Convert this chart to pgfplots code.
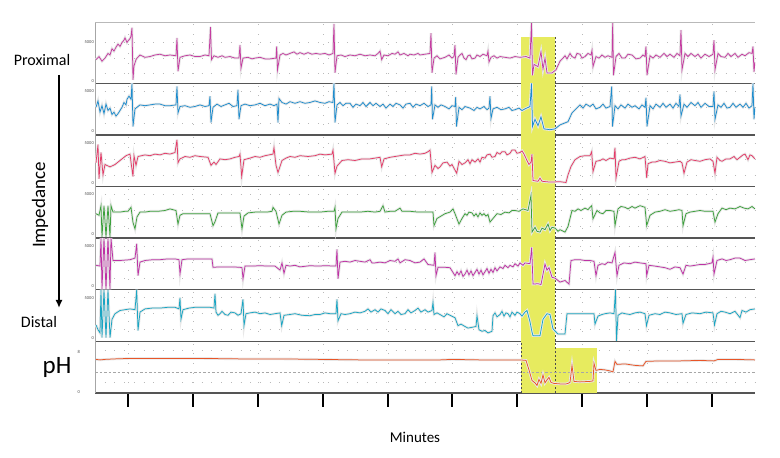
\documentclass[border=0pt]{standalone}
\usepackage{pgfplots}
\pgfplotsset{compat=1.18}
\usepackage{pgfplotstable}
\usepackage{fontspec}
\setmainfont{Carlito}
\usetikzlibrary{arrows.meta}

\definecolor{cA}{RGB}{196,60,160}
\definecolor{cB}{RGB}{30,140,205}
\definecolor{cC}{RGB}{228,60,105}
\definecolor{cD}{RGB}{60,160,60}
\definecolor{cE}{RGB}{190,50,165}
\definecolor{cF}{RGB}{25,165,195}
\definecolor{cPH}{RGB}{232,85,40}
\definecolor{hl}{RGB}{231,235,95}
\definecolor{sep}{RGB}{85,85,85}

\pgfplotstableread[row sep=\\]{x y\\
96 2.8\\ 99 3.2\\ 102 2.6\\ 105 3.0\\ 108 3.6\\ 110 3.4\\ 112 4.2\\ 114 3.9\\ 116 4.4\\ 118 4.8\\ 120 4.5\\ 122 5.0\\ 124 5.3\\ 125 5.6\\ 127 5.0\\ 128 5.2\\ 130 5.5\\ 131 5.8\\ 132 6.9\\ 133 0.2\\ 134 2.0\\ 136 2.8\\ 137 3.0\\ 140 3.4\\ 145 3.1\\ 150 3.2\\ 155 3.4\\ 160 3.5\\ 165 3.3\\ 170 3.4\\ 176 3.3\\ 177 5.6\\ 178 1.3\\ 180 3.1\\ 185 3.3\\ 190 3.4\\ 195 3.2\\ 200 3.2\\ 205 3.4\\ 209 3.3\\ 210.5 7.0\\ 211.5 2.8\\ 214 3.3\\ 218 3.1\\ 222 3.3\\ 225 3.1\\ 230 3.2\\ 235 3.0\\ 239 3.0\\ 240 4.7\\ 241 1.7\\ 243 3.0\\ 248 3.1\\ 252 2.9\\ 255 3.0\\ 260 3.1\\ 265 2.9\\ 270 2.9\\ 276 3.0\\ 276.7 4.5\\ 277.5 1.5\\ 280 3.4\\ 283 3.6\\ 286 3.4\\ 290 3.6\\ 294 3.8\\ 297 3.5\\ 300 3.7\\ 304 3.5\\ 308 3.7\\ 312 3.5\\ 316 3.6\\ 320 3.5\\ 325 3.6\\ 329 3.4\\ 333 3.6\\ 334 7.4\\ 335 1.1\\ 337 3.3\\ 341 3.4\\ 345 3.2\\ 350 3.4\\ 355 3.3\\ 360 3.5\\ 365 3.3\\ 370 3.4\\ 375 3.3\\ 378 3.6\\ 380 3.9\\ 381.7 2.8\\ 384 3.4\\ 388 3.3\\ 392 3.6\\ 395 3.5\\ 398 3.8\\ 400 3.4\\ 404 3.6\\ 408 3.3\\ 410 3.5\\ 414 3.4\\ 418 3.6\\ 420 3.4\\ 425 3.5\\ 430 3.6\\ 431 6.2\\ 432 1.1\\ 434 3.0\\ 437 3.3\\ 440 2.9\\ 445 3.1\\ 449 3.4\\ 452 3.0\\ 454 3.2\\ 455 4.7\\ 456 0.9\\ 458 3.1\\ 460 3.4\\ 462 3.6\\ 464 3.0\\ 466 2.8\\ 468 3.3\\ 470 3.4\\ 472 2.9\\ 475 3.0\\ 477 3.4\\ 480 3.2\\ 483 3.5\\ 487 3.3\\ 488 3.9\\ 489 2.5\\ 491 3.1\\ 494 3.3\\ 497 3.0\\ 500 3.2\\ 505 3.1\\ 510 3.0\\ 515 3.2\\ 520 3.1\\ 526 3.2\\ 530 3.0\\ 531.5 7.6\\ 532.5 0.8\\ 534 2.2\\ 538 1.9\\ 541 3.8\\ 543 1.6\\ 545 3.0\\ 547 1.1\\ 552 1.1\\ 556 1.5\\ 560 2.6\\ 563 3.0\\ 565 3.3\\ 567 2.9\\ 570 3.6\\ 572 3.2\\ 575 3.0\\ 577 3.6\\ 580 3.5\\ 582 3.0\\ 585 3.2\\ 588 3.6\\ 591 3.4\\ 592 4.0\\ 593 1.9\\ 596 3.2\\ 599 3.0\\ 602 3.4\\ 605 3.1\\ 608 3.3\\ 612 3.1\\ 612.7 7.5\\ 613.5 0.8\\ 616 3.2\\ 619 3.6\\ 622 3.0\\ 625 3.0\\ 628 3.5\\ 632 3.4\\ 636 2.9\\ 640 3.0\\ 643 3.4\\ 645 3.2\\ 646 4.5\\ 647 0.8\\ 650 3.3\\ 653 3.0\\ 656 3.4\\ 660 3.1\\ 664 3.6\\ 667 3.2\\ 670 3.5\\ 674 3.1\\ 677 3.6\\ 680 3.3\\ 681 6.6\\ 682 1.5\\ 685 3.6\\ 688 3.2\\ 691 3.6\\ 695 3.2\\ 698 3.5\\ 701 3.0\\ 705 3.5\\ 709 3.2\\ 713 3.5\\ 714 5.3\\ 715 1.5\\ 718 3.6\\ 721 3.2\\ 725 3.1\\ 728 3.6\\ 731 3.2\\ 735 3.6\\ 738 3.1\\ 742 3.5\\ 745 3.3\\ 749 3.7\\ 752 3.6\\ 753 4.5\\ 754 1.2\\ 755 2.5\\
}\tA

\pgfplotstableread[row sep=\\]{x y\\
96 3.0\\ 98 3.8\\ 100 2.4\\ 102 3.2\\ 104 2.2\\ 106 3.4\\ 108 2.6\\ 110 2.9\\ 112 2.1\\ 114 2.4\\ 116 1.9\\ 118 2.2\\ 120 2.6\\ 122 3.0\\ 124 3.6\\ 126 3.3\\ 127 4.0\\ 129 4.4\\ 131 4.0\\ 132 6.0\\ 133 0.6\\ 135 2.8\\ 140 3.3\\ 145 3.2\\ 150 3.3\\ 155 3.4\\ 160 3.4\\ 165 3.2\\ 170 3.2\\ 176 3.3\\ 177 5.6\\ 178 2.3\\ 180 3.1\\ 185 3.2\\ 190 3.0\\ 195 3.1\\ 200 3.3\\ 205 3.1\\ 209 3.2\\ 210 4.4\\ 211 1.1\\ 213 3.0\\ 217 3.4\\ 221 3.1\\ 225 3.3\\ 229 3.5\\ 233 3.1\\ 237 3.2\\ 238 5.2\\ 239 1.5\\ 241 3.2\\ 245 3.4\\ 250 3.2\\ 255 3.3\\ 260 3.5\\ 265 3.2\\ 270 3.4\\ 274 3.2\\ 277 3.4\\ 278 1.1\\ 279 4.1\\ 282 3.6\\ 286 3.4\\ 290 3.7\\ 295 3.5\\ 300 3.7\\ 305 3.5\\ 310 3.6\\ 315 3.8\\ 320 3.6\\ 325 3.5\\ 329 3.7\\ 333 3.6\\ 334 6.0\\ 335 1.1\\ 337 3.3\\ 340 3.6\\ 343 3.2\\ 346 3.5\\ 350 3.5\\ 353 3.0\\ 356 3.4\\ 360 3.2\\ 363 3.6\\ 366 3.1\\ 370 3.6\\ 373 3.2\\ 376 3.5\\ 380 3.1\\ 383 3.4\\ 386 2.9\\ 390 3.4\\ 393 3.1\\ 396 3.5\\ 400 3.3\\ 403 2.9\\ 406 3.4\\ 410 3.5\\ 413 3.0\\ 416 3.4\\ 420 3.2\\ 424 3.5\\ 428 3.1\\ 431 3.3\\ 431.7 5.6\\ 432.5 1.5\\ 435 3.3\\ 438 3.0\\ 441 3.3\\ 445 3.1\\ 449 2.8\\ 452 3.2\\ 455 3.1\\ 455.7 4.3\\ 456.5 0.6\\ 459 3.0\\ 462 2.7\\ 465 3.1\\ 470 2.9\\ 474 2.6\\ 477 3.0\\ 480 2.8\\ 484 3.1\\ 487 2.7\\ 489 2.9\\ 490 4.4\\ 491 1.6\\ 493 2.8\\ 497 3.0\\ 501 2.7\\ 505 2.8\\ 509 3.0\\ 512 2.6\\ 515 2.7\\ 519 2.9\\ 522 2.6\\ 525 2.8\\ 530 3.1\\ 531.5 6.0\\ 532.5 0.6\\ 535 1.5\\ 538 0.7\\ 541 1.8\\ 544 0.3\\ 550 0.2\\ 555 0.3\\ 560 0.8\\ 564 1.0\\ 568 1.2\\ 572 2.3\\ 576 2.8\\ 580 3.3\\ 583 2.9\\ 586 3.4\\ 590 3.1\\ 593 3.4\\ 596 2.8\\ 600 3.0\\ 603 3.4\\ 606 2.9\\ 610 3.1\\ 611.7 5.6\\ 612.5 0.6\\ 615 3.2\\ 618 2.8\\ 621 3.3\\ 625 2.9\\ 628 3.4\\ 632 3.0\\ 635 3.2\\ 639 2.8\\ 642 3.3\\ 645 3.0\\ 646 4.2\\ 647 0.6\\ 650 3.2\\ 653 2.8\\ 656 3.4\\ 660 3.0\\ 663 3.5\\ 666 3.0\\ 670 3.4\\ 673 2.9\\ 676 3.5\\ 679 3.1\\ 680 4.6\\ 681 1.9\\ 684 3.4\\ 687 3.0\\ 691 3.6\\ 695 3.2\\ 698 3.6\\ 701 3.0\\ 705 3.5\\ 709 3.1\\ 713 3.1\\ 714 5.0\\ 715 1.5\\ 718 3.3\\ 721 3.0\\ 724 3.5\\ 727 2.9\\ 730 3.0\\ 733 3.5\\ 736 3.0\\ 740 3.4\\ 743 3.0\\ 746 3.5\\ 749 2.9\\ 752 3.2\\ 753 6.0\\ 754 1.5\\ 755 3.0\\
}\tB

\pgfplotstableread[row sep=\\]{x y\\
96 2.5\\ 98 4.8\\ 99 0.5\\ 101 3.8\\ 103 1.0\\ 105 2.3\\ 110 2.0\\ 115 2.3\\ 120 2.8\\ 126 3.4\\ 130 3.6\\ 131 2.6\\ 133 0.8\\ 134 3.4\\ 136 2.2\\ 138 3.3\\ 145 3.5\\ 150 3.4\\ 155 3.6\\ 160 3.5\\ 165 3.7\\ 170 3.6\\ 175 3.8\\ 177 5.4\\ 178 2.5\\ 180 3.0\\ 185 3.3\\ 190 3.2\\ 195 3.4\\ 200 3.3\\ 208 3.2\\ 211 2.2\\ 214 2.6\\ 216 2.3\\ 220 3.0\\ 225 2.9\\ 230 3.0\\ 235 3.2\\ 239 3.3\\ 240 3.6\\ 241.7 0.8\\ 244 2.9\\ 250 3.1\\ 255 3.3\\ 260 3.2\\ 265 3.4\\ 273 3.6\\ 274 4.4\\ 276 2.2\\ 278 1.3\\ 282 2.8\\ 286 3.1\\ 290 3.3\\ 295 3.2\\ 300 3.4\\ 308 3.3\\ 315 3.4\\ 320 3.6\\ 325 3.5\\ 332 3.6\\ 333 4.1\\ 335 1.2\\ 337 2.1\\ 342 2.8\\ 348 2.9\\ 355 2.8\\ 362 3.0\\ 370 3.0\\ 375 3.1\\ 380 3.2\\ 381.7 2.0\\ 384 3.0\\ 390 3.2\\ 395 3.3\\ 400 3.4\\ 405 3.5\\ 410 3.5\\ 415 3.7\\ 420 3.6\\ 425 3.7\\ 428 3.9\\ 430 4.1\\ 432 1.3\\ 435 2.2\\ 438 1.8\\ 440 2.0\\ 443 2.5\\ 447 2.6\\ 450 2.1\\ 452 2.3\\ 456.7 1.2\\ 459 2.7\\ 462 2.3\\ 465 2.5\\ 468 2.9\\ 470 2.4\\ 472 2.9\\ 475 2.6\\ 478 3.0\\ 480 2.6\\ 482 3.2\\ 485 3.1\\ 487 3.5\\ 490 3.6\\ 492 3.2\\ 495 3.3\\ 497 3.8\\ 500 3.6\\ 502 3.9\\ 505 3.9\\ 507 3.5\\ 510 3.7\\ 512 4.1\\ 515 4.1\\ 517 3.7\\ 520 3.8\\ 522 4.0\\ 524 3.6\\ 527 2.8\\ 529 2.3\\ 531 2.6\\ 532 3.6\\ 533 0.3\\ 538 0.2\\ 540 0.6\\ 542 0.2\\ 550 0.1\\ 560 0.15\\ 566 0.05\\ 568 1.0\\ 571 2.05\\ 575 2.9\\ 580 3.3\\ 585 3.4\\ 590 3.4\\ 591.7 3.9\\ 593 1.4\\ 596 2.7\\ 600 2.8\\ 603 3.0\\ 606 2.8\\ 610 3.1\\ 614 3.0\\ 615 4.4\\ 616 0.6\\ 619 2.7\\ 622 2.9\\ 625 2.9\\ 630 3.1\\ 635 3.2\\ 640 3.0\\ 645 3.3\\ 646.7 0.6\\ 648 2.4\\ 652 2.6\\ 655 2.6\\ 660 2.8\\ 665 2.7\\ 670 2.5\\ 675 2.6\\ 680 2.7\\ 682 2.5\\ 684 1.2\\ 687 2.6\\ 691 2.9\\ 695 2.8\\ 700 2.7\\ 705 2.9\\ 710 3.0\\ 713 2.7\\ 715 1.2\\ 717 3.2\\ 720 2.8\\ 722 2.7\\ 726 3.0\\ 730 3.0\\ 734 3.3\\ 737 2.9\\ 740 3.2\\ 743 3.5\\ 745 3.6\\ 748 2.9\\ 750 3.5\\ 752 3.4\\ 755 3.0\\
}\tC

\pgfplotstableread[row sep=\\]{x y\\
96 2.6\\ 99 2.4\\ 101 3.6\\ 102 -0.3\\ 104 3.6\\ 106 -0.3\\ 108 3.6\\ 110 -0.3\\ 111 3.6\\ 113 2.8\\ 120 2.8\\ 125 2.9\\ 128 2.9\\ 131 3.4\\ 133 1.5\\ 135 0.7\\ 137 2.2\\ 140 2.8\\ 145 2.8\\ 150 2.9\\ 158 2.9\\ 165 3.0\\ 170 3.2\\ 176 3.0\\ 178 1.3\\ 180 2.4\\ 183 2.6\\ 190 2.6\\ 200 2.6\\ 210 2.6\\ 213 1.1\\ 215 1.6\\ 218 2.7\\ 224 2.7\\ 230 2.7\\ 240 2.7\\ 242 0.7\\ 244 2.3\\ 248 2.7\\ 255 2.8\\ 260 2.8\\ 267 2.8\\ 272 2.9\\ 273 3.4\\ 276 2.9\\ 279 1.3\\ 282 2.4\\ 286 2.8\\ 293 2.9\\ 300 2.9\\ 310 2.8\\ 320 2.8\\ 328 2.9\\ 334 2.9\\ 335 3.4\\ 336 0.7\\ 338 2.0\\ 342 2.8\\ 350 2.8\\ 360 2.8\\ 368 2.9\\ 375 2.8\\ 380 2.9\\ 383 3.6\\ 385 2.8\\ 390 2.9\\ 395 2.9\\ 400 3.3\\ 402 2.9\\ 410 2.9\\ 418 2.8\\ 425 2.8\\ 433 2.8\\ 434 1.1\\ 437 2.0\\ 441 2.3\\ 445 2.6\\ 450 2.8\\ 453 3.2\\ 455 2.6\\ 459 1.3\\ 462 2.0\\ 465 2.6\\ 467 2.4\\ 469 2.8\\ 472 2.7\\ 474 2.3\\ 476 2.6\\ 478 2.2\\ 480 2.7\\ 482 2.4\\ 484 2.6\\ 486 2.3\\ 488 2.5\\ 490 1.55\\ 493 2.0\\ 497 2.6\\ 501 2.5\\ 505 2.8\\ 509 2.7\\ 512 3.0\\ 515 3.0\\ 519 2.9\\ 523 3.2\\ 528 3.0\\ 531 4.9\\ 532 0.3\\ 535 0.9\\ 537 0.4\\ 540 0.3\\ 542 0.8\\ 545 0.6\\ 548 1.3\\ 550 0.5\\ 552 0.9\\ 555 0.8\\ 558 0.4\\ 560 0.6\\ 565 0.3\\ 568 1.0\\ 572 3.0\\ 575 2.9\\ 578 3.2\\ 581 3.0\\ 585 3.3\\ 588 3.1\\ 590 3.4\\ 591.7 3.6\\ 593 1.96\\ 597 3.0\\ 600 2.7\\ 603 2.6\\ 606 3.0\\ 610 3.0\\ 614 2.9\\ 615 1.1\\ 618 3.2\\ 621 3.5\\ 625 3.4\\ 628 3.2\\ 632 3.5\\ 635 3.3\\ 640 3.6\\ 645 3.4\\ 646.7 1.1\\ 650 2.4\\ 655 2.8\\ 660 2.9\\ 665 3.1\\ 670 2.9\\ 675 3.0\\ 679 3.1\\ 682 3.0\\ 683 1.1\\ 686 2.6\\ 690 2.8\\ 695 2.9\\ 700 3.0\\ 705 2.9\\ 713 2.9\\ 715 1.55\\ 718 2.6\\ 722 3.3\\ 726 3.1\\ 730 3.3\\ 735 3.2\\ 740 3.5\\ 744 3.3\\ 748 3.2\\ 752 3.5\\ 755 3.2\\
}\tD

\pgfplotstableread[row sep=\\]{x y\\
96 2.6\\ 100 2.5\\ 101 6.0\\ 102 -0.4\\ 104 6.0\\ 106 -0.4\\ 108 6.0\\ 110 -0.4\\ 111 6.0\\ 113 3.2\\ 120 3.2\\ 130 3.3\\ 135 3.5\\ 136.7 5.3\\ 138 1.3\\ 140 3.0\\ 145 3.2\\ 153 3.3\\ 160 3.3\\ 168 3.4\\ 175 3.4\\ 179 3.3\\ 180 1.5\\ 182 3.3\\ 188 3.4\\ 195 3.4\\ 203 3.4\\ 210 3.4\\ 212 3.4\\ 213 2.35\\ 220 2.4\\ 225 2.4\\ 232 2.4\\ 240 2.35\\ 242 2.3\\ 243 0.9\\ 245 2.5\\ 252 2.5\\ 260 2.55\\ 268 2.5\\ 275 2.5\\ 280 2.0\\ 282 2.9\\ 284 1.6\\ 286 2.6\\ 290 2.5\\ 295 2.6\\ 300 2.4\\ 310 2.55\\ 318 2.5\\ 325 2.55\\ 336 2.5\\ 337 4.6\\ 338 0.9\\ 340 3.0\\ 345 3.1\\ 350 3.0\\ 355 3.2\\ 360 3.1\\ 365 3.0\\ 370 3.3\\ 372 2.9\\ 375 2.9\\ 380 3.0\\ 385 2.9\\ 390 3.2\\ 395 3.1\\ 398 3.4\\ 400 2.9\\ 405 3.3\\ 410 3.2\\ 415 2.9\\ 420 3.0\\ 424 3.4\\ 428 2.7\\ 434 2.6\\ 435 4.2\\ 436 1.3\\ 438 2.35\\ 445 2.35\\ 450 2.3\\ 455 1.3\\ 457 1.8\\ 459 1.4\\ 461 1.9\\ 463 1.2\\ 465 1.5\\ 467 2.0\\ 469 1.4\\ 471 1.9\\ 473 1.3\\ 475 1.7\\ 477 2.1\\ 479 1.5\\ 481 2.0\\ 483 1.4\\ 485 1.8\\ 487 2.2\\ 489 1.6\\ 491 2.1\\ 493 1.7\\ 495 2.3\\ 497 1.9\\ 500 2.4\\ 503 2.2\\ 505 2.6\\ 508 2.3\\ 510 2.6\\ 513 2.4\\ 515 2.8\\ 518 2.5\\ 520 2.9\\ 523 2.6\\ 525 2.9\\ 530 2.8\\ 531.7 4.85\\ 533 0.25\\ 538 0.3\\ 541 0.2\\ 545 2.75\\ 547 2.0\\ 549 2.3\\ 552 1.1\\ 555 1.0\\ 560 0.5\\ 565 0.7\\ 569 0.25\\ 571 3.2\\ 575 3.3\\ 580 3.3\\ 585 3.2\\ 590 3.2\\ 594 3.1\\ 596 1.3\\ 598 2.6\\ 602 2.8\\ 605 2.7\\ 608 3.0\\ 612 2.9\\ 615 4.2\\ 617 1.3\\ 619 2.6\\ 624 2.9\\ 630 2.8\\ 635 3.0\\ 640 2.9\\ 646 2.8\\ 646.7 1.3\\ 649 2.6\\ 655 2.5\\ 660 2.4\\ 665 2.3\\ 670 2.1\\ 675 2.4\\ 680 2.3\\ 683 1.5\\ 686 2.6\\ 690 2.5\\ 695 2.6\\ 700 2.7\\ 705 2.7\\ 712 2.9\\ 713 3.6\\ 714 1.5\\ 717 3.2\\ 722 3.4\\ 726 3.2\\ 730 3.3\\ 735 3.5\\ 740 3.5\\ 745 3.2\\ 750 3.3\\ 755 3.4\\
}\tE

\pgfplotstableread[row sep=\\]{x y\\
96 1.6\\ 98 1.0\\ 100 0.6\\ 101 6.0\\ 102 0.0\\ 104 6.0\\ 106 0.0\\ 108 6.0\\ 110 0.0\\ 112 2.3\\ 115 3.0\\ 120 3.4\\ 125 3.5\\ 130 3.6\\ 135 3.5\\ 136.7 6.0\\ 138 0.9\\ 140 3.2\\ 145 3.6\\ 152 3.7\\ 160 3.7\\ 168 3.8\\ 175 3.8\\ 179 3.6\\ 180 5.0\\ 181 2.3\\ 183 3.5\\ 189 3.7\\ 195 3.8\\ 203 3.8\\ 210 3.8\\ 214 3.7\\ 215 5.5\\ 216 3.2\\ 218 2.8\\ 220 3.0\\ 222 3.3\\ 225 2.9\\ 228 2.8\\ 231 3.2\\ 235 3.1\\ 238 2.8\\ 241 3.0\\ 243 4.8\\ 244 1.5\\ 246 3.0\\ 250 3.1\\ 255 3.2\\ 260 3.0\\ 265 3.1\\ 270 2.9\\ 275 3.0\\ 280 3.1\\ 281.7 1.5\\ 284 2.8\\ 290 2.9\\ 295 3.0\\ 302 2.8\\ 310 2.75\\ 315 2.9\\ 320 2.9\\ 325 3.1\\ 330 3.0\\ 336 3.0\\ 337 4.8\\ 338 2.1\\ 341 3.0\\ 345 2.9\\ 350 3.0\\ 355 3.2\\ 360 3.1\\ 365 3.3\\ 368 3.6\\ 371 3.2\\ 375 3.5\\ 378 3.2\\ 381 3.6\\ 385 3.4\\ 388 3.0\\ 391 3.5\\ 395 3.0\\ 398 3.3\\ 401 2.9\\ 405 3.0\\ 408 3.5\\ 411 3.1\\ 415 3.4\\ 418 3.7\\ 421 3.2\\ 425 3.5\\ 428 3.2\\ 432 3.4\\ 433 4.4\\ 434 2.9\\ 437 3.1\\ 440 2.9\\ 444 2.6\\ 447 3.0\\ 450 2.8\\ 455 2.5\\ 458 1.5\\ 461 1.7\\ 465 1.4\\ 468 1.2\\ 472 1.3\\ 476 1.4\\ 477 2.75\\ 479 1.0\\ 482 0.8\\ 485 0.9\\ 488 0.6\\ 490 0.7\\ 492 0.8\\ 493 2.75\\ 495 3.1\\ 497 2.6\\ 500 2.9\\ 502 3.3\\ 504 2.7\\ 506 3.1\\ 508 3.0\\ 510 2.6\\ 512 3.2\\ 515 2.8\\ 517 3.2\\ 520 3.0\\ 522 2.7\\ 525 3.2\\ 527 3.4\\ 530 2.0\\ 532 0.7\\ 533 0.25\\ 540 0.25\\ 543 2.3\\ 547 3.0\\ 550 2.9\\ 553 1.1\\ 558 0.45\\ 565 0.45\\ 567 3.0\\ 572 3.0\\ 580 3.0\\ 585 3.0\\ 590 3.0\\ 594 3.0\\ 595 1.7\\ 598 2.7\\ 602 2.9\\ 605 3.0\\ 610 3.1\\ 614 3.0\\ 615.5 6.0\\ 616.5 -0.4\\ 618 2.8\\ 622 3.1\\ 625 3.0\\ 630 2.9\\ 635 3.1\\ 640 3.2\\ 645 3.0\\ 646.5 1.5\\ 649 2.8\\ 655 3.0\\ 660 2.9\\ 665 3.2\\ 670 3.1\\ 676 2.9\\ 682 3.0\\ 683 1.8\\ 686 2.9\\ 692 3.1\\ 700 3.0\\ 706 3.2\\ 713 3.1\\ 714.5 1.6\\ 717 3.0\\ 721 3.3\\ 725 3.2\\ 730 3.0\\ 735 3.3\\ 740 2.5\\ 742 3.4\\ 746 3.2\\ 750 3.5\\ 755 3.6\\
}\tF

\pgfplotstableread[row sep=\\]{x y\\
96 6.6\\ 100 6.5\\ 105 6.6\\ 115 6.7\\ 130 6.8\\ 160 6.8\\ 200 6.8\\ 240 6.7\\ 280 6.7\\ 320 6.6\\ 360 6.5\\ 400 6.5\\ 440 6.5\\ 452 6.6\\ 480 6.5\\ 520 6.5\\ 526 6.4\\ 529 4.5\\ 532 2.4\\ 535 1.9\\ 537 1.4\\ 539 2.6\\ 541 1.8\\ 543 3.5\\ 545 1.9\\ 547 2.5\\ 549 3.0\\ 551 2.0\\ 554 1.8\\ 560 1.7\\ 566 1.7\\ 568 1.8\\ 570 2.0\\ 572 5.4\\ 574 2.2\\ 580 2.1\\ 590 2.2\\ 593 2.3\\ 594 5.8\\ 596 4.4\\ 600 4.6\\ 605 4.5\\ 610 4.3\\ 613 4.1\\ 615 6.2\\ 617 5.6\\ 625 5.7\\ 635 5.4\\ 643 5.3\\ 646 6.2\\ 660 6.3\\ 680 6.3\\ 700 6.4\\ 714 6.3\\ 718 6.6\\ 735 6.6\\ 755 6.5\\
}\tPH

\pgfplotsset{
  base/.style={scale only axis, width=660pt, xmin=95, xmax=755,
    axis lines*=left, clip=true,
    xtick={128,193,258,323,388,452,517,582,647,712}, xticklabels={},
    minor x tick num=1, xmajorgrids, xminorgrids,
    ymajorgrids=false, yminorgrids,
    grid style={gray!55, line width=0.7pt, dash pattern=on 0.7pt off 9pt},
    minor grid style={gray!55, line width=0.7pt, dash pattern=on 0.7pt off 9pt},
    tick style={draw=none}, minor tick length=0pt,
    x axis line style={sep, line width=1.4pt},
    y axis line style={gray!70, line width=0.5pt},
    yticklabel style={font=\fontsize{4.5}{5}\selectfont, text=black!70, inner sep=1pt},
  },
  imp/.style={base, height=51.6pt, ymin=-0.45, ymax=6.0,
    ytick={0,5}, yticklabels={0,5000}, minor ytick={1,3,5}},
  halo/.style={line width=2.6pt, black!9},
  trace/.style={line width=0.75pt},
}

\begin{document}
\begin{tikzpicture}[x=1pt,y=1pt]
\path (0,0) rectangle (780,458);

% panel 1
\begin{axis}[base, at={(95pt,374.7pt)}, anchor=south west, height=60.6pt,
  ymin=-0.23, ymax=7.54, ytick={0,5}, yticklabels={0,5000}, minor ytick={1,3,5}]
  \fill[hl] (axis cs:521,-0.23) rectangle (axis cs:555,5.7);
  \draw[gray!60!black, dash pattern=on 2pt off 2pt, line width=0.6pt] (axis cs:555,-0.23) -- (axis cs:555,5.7);
  \addplot[halo] table {\tA};
  \addplot[trace, cA] table {\tA};
\end{axis}
\draw[gray!55, line width=1.4pt] (95,435.3) -- (755,435.3);

% panel 2
\begin{axis}[imp, at={(95pt,323.1pt)}, anchor=south west]
  \fill[hl] (axis cs:521,-0.45) rectangle (axis cs:555,6.0);
  \draw[gray!60!black, dash pattern=on 2pt off 2pt, line width=0.6pt] (axis cs:555,-0.45) -- (axis cs:555,6.0);
  \addplot[halo] table {\tB};
  \addplot[trace, cB] table {\tB};
\end{axis}

% panel 3
\begin{axis}[imp, at={(95pt,271.5pt)}, anchor=south west]
  \fill[hl] (axis cs:521,-0.45) rectangle (axis cs:555,6.0);
  \draw[gray!60!black, dash pattern=on 2pt off 2pt, line width=0.6pt] (axis cs:555,-0.45) -- (axis cs:555,6.0);
  \addplot[halo] table {\tC};
  \addplot[trace, cC] table {\tC};
\end{axis}

% panel 4
\begin{axis}[imp, at={(95pt,219.9pt)}, anchor=south west]
  \fill[hl] (axis cs:521,-0.45) rectangle (axis cs:555,6.0);
  \draw[gray!60!black, dash pattern=on 2pt off 2pt, line width=0.6pt] (axis cs:555,-0.45) -- (axis cs:555,6.0);
  \addplot[halo] table {\tD};
  \addplot[trace, cD] table {\tD};
\end{axis}

% panel 5
\begin{axis}[imp, at={(95pt,168.3pt)}, anchor=south west]
  \fill[hl] (axis cs:521,-0.45) rectangle (axis cs:555,6.0);
  \draw[gray!60!black, dash pattern=on 2pt off 2pt, line width=0.6pt] (axis cs:555,-0.45) -- (axis cs:555,6.0);
  \addplot[halo] table {\tE};
  \addplot[trace, cE] table {\tE};
\end{axis}

% panel 6
\begin{axis}[imp, at={(95pt,116.7pt)}, anchor=south west]
  \fill[hl] (axis cs:521,-0.45) rectangle (axis cs:555,6.0);
  \draw[gray!60!black, dash pattern=on 2pt off 2pt, line width=0.6pt] (axis cs:555,-0.45) -- (axis cs:555,6.0);
  \addplot[halo] table {\tF};
  \addplot[trace, cF] table {\tF};
\end{axis}

% pH panel
\begin{axis}[base, at={(95pt,65.1pt)}, anchor=south west, height=51.6pt,
  ymin=-0.1, ymax=10.22, ytick={0,8}, yticklabels={0,8}, minor ytick={2,8.5},
  xtick style={draw=black, line width=1.6pt}, major tick length=14pt, tick align=outside]
  \fill[hl] (axis cs:521,-0.1) rectangle (axis cs:555,10.22);
  \fill[hl] (axis cs:555,-0.1) rectangle (axis cs:597,8.9);
  \draw[gray!60!black, dash pattern=on 2pt off 2pt, line width=0.6pt] (axis cs:555,-0.1) -- (axis cs:555,10.22);
  \draw[gray!60!black, dash pattern=on 2pt off 2pt, line width=0.6pt] (axis cs:521,-0.1) -- (axis cs:521,10.22);
  \draw[gray!70, dash pattern=on 2.5pt off 2pt, line width=0.6pt] (axis cs:95,4) -- (axis cs:755,4);
  \addplot[halo] table {\tPH};
  \addplot[trace, cPH] table {\tPH};
\end{axis}

% labels
\node[font=\fontsize{16}{18}\selectfont] at (42,398) {Proximal};
\node[font=\fontsize{19}{21}\selectfont, rotate=90] at (40,253) {Impedance};
\node[font=\fontsize{16}{18}\selectfont] at (39,136) {Distal};
\draw[line width=1.8pt, -{Latex[length=8pt,width=7pt]}] (59,383) -- (59,150);
\node[font=\fontsize{25}{27}\selectfont] at (57,91) {pH};
\node[font=\fontsize{15}{17}\selectfont] at (415,21) {Minutes};
\end{tikzpicture}
\end{document}
